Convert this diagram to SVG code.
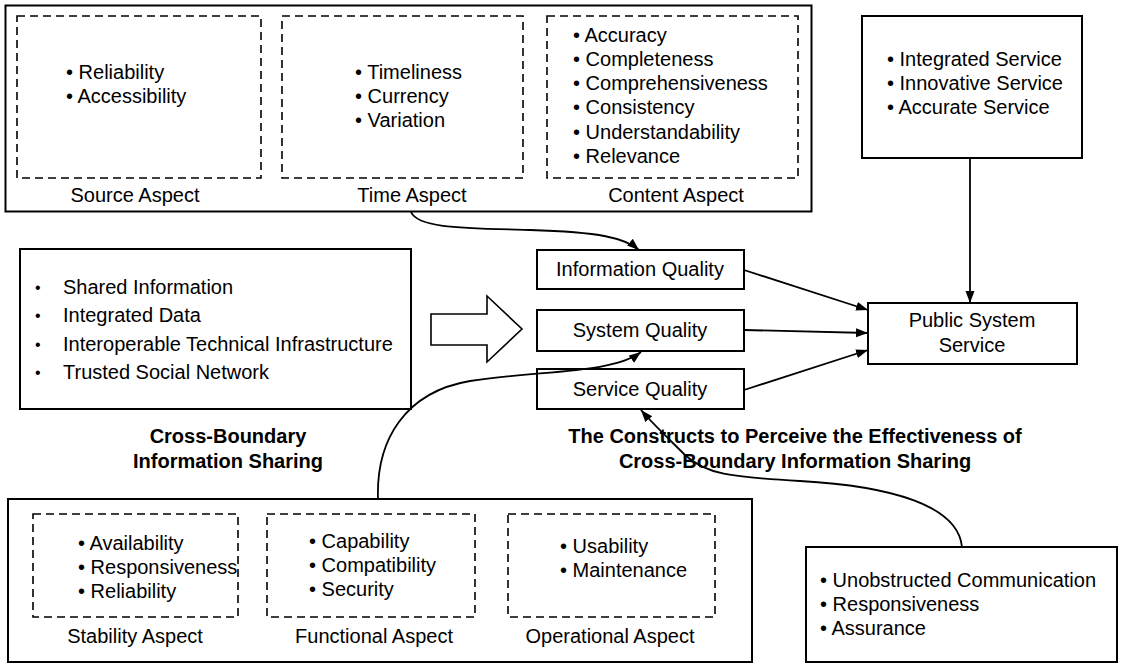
<svg xmlns="http://www.w3.org/2000/svg" width="1123" height="669" viewBox="0 0 1123 669">
<style>
text{font-family:"Liberation Sans",Arial,sans-serif;font-size:20px;fill:#000}
.b{font-weight:bold}
.m{text-anchor:middle}
.sb{font-size:16px}
.box{fill:#fff;stroke:#000;stroke-width:2}
.dash{fill:none;stroke:#000;stroke-width:1.6;stroke-dasharray:8 5}
.con{fill:none;stroke:#000;stroke-width:1.8}
</style>
<defs>
<marker id="ah" markerUnits="userSpaceOnUse" markerWidth="14" markerHeight="10" refX="12" refY="4.5" orient="auto">
<path d="M0,0 L12,4.5 L0,9 z" fill="#000"/>
</marker>
</defs>
<rect width="1123" height="669" fill="#fff"/>

<g id="information-aspects">
<rect class="box" x="5.5" y="5.5" width="806" height="206"/>
<rect class="dash" x="17" y="16" width="244" height="162"/>
<rect class="dash" x="282" y="16" width="241" height="162"/>
<rect class="dash" x="547" y="16" width="251" height="162"/>
<text x="66" y="79">• Reliability</text>
<text x="66" y="103">• Accessibility</text>
<text x="355" y="79">• Timeliness</text>
<text x="355" y="103">• Currency</text>
<text x="355" y="127">• Variation</text>
<text x="573" y="42">• Accuracy</text>
<text x="573" y="66">• Completeness</text>
<text x="573" y="90">• Comprehensiveness</text>
<text x="573" y="114">• Consistency</text>
<text x="573" y="139">• Understandability</text>
<text x="573" y="163">• Relevance</text>
<text class="m" x="135" y="202">Source Aspect</text>
<text class="m" x="412" y="202">Time Aspect</text>
<text class="m" x="676" y="202">Content Aspect</text>
</g>

<g id="service-outputs">
<rect class="box" x="862" y="16" width="220" height="142"/>
<text x="887" y="66">• Integrated Service</text>
<text x="887" y="90">• Innovative Service</text>
<text x="887" y="114">• Accurate Service</text>
</g>

<g id="public-system-service">
<rect class="box" x="868" y="303" width="209" height="61"/>
<text class="m" x="972" y="327">Public System</text>
<text class="m" x="972" y="352">Service</text>
</g>

<g id="information-quality">
<rect class="box" x="537" y="250" width="207" height="39"/>
<text class="m" x="640" y="276">Information Quality</text>
</g>
<g id="system-quality">
<rect class="box" x="537" y="310" width="207" height="41"/>
<text class="m" x="640" y="337">System Quality</text>
</g>
<g id="service-quality">
<rect class="box" x="537" y="369" width="207" height="40"/>
<text class="m" x="640" y="396">Service Quality</text>
</g>

<g id="cross-boundary">
<rect class="box" x="20" y="249" width="391" height="160"/>
<text class="sb" x="35" y="293">•</text>
<text x="63" y="294">Shared Information</text>
<text class="sb" x="35" y="321">•</text>
<text x="63" y="322">Integrated Data</text>
<text class="sb" x="35" y="350">•</text>
<text x="63" y="351">Interoperable Technical Infrastructure</text>
<text class="sb" x="35" y="378">•</text>
<text x="63" y="379">Trusted Social Network</text>
<text class="b m" x="228" y="443">Cross-Boundary</text>
<text class="b m" x="228" y="468">Information Sharing</text>
</g>

<g id="block-arrow">
<polygon points="431,314 487,314 487,296 522,329 487,362 487,345 431,345" fill="#fff" stroke="#000" stroke-width="1.6"/>
</g>

<g id="constructs-title">
<text class="b m" x="795" y="443">The Constructs to Perceive the Effectiveness of</text>
<text class="b m" x="795" y="468">Cross-Boundary Information Sharing</text>
</g>

<g id="system-aspects">
<rect class="box" x="8" y="499" width="744" height="163"/>
<rect class="dash" x="33" y="514" width="205" height="103"/>
<rect class="dash" x="267" y="514" width="208" height="103"/>
<rect class="dash" x="508" y="514" width="207" height="103"/>
<text x="78" y="550">• Availability</text>
<text x="78" y="574">• Responsiveness</text>
<text x="78" y="598">• Reliability</text>
<text x="309" y="548">• Capability</text>
<text x="309" y="572">• Compatibility</text>
<text x="309" y="596">• Security</text>
<text x="560" y="553">• Usability</text>
<text x="560" y="577">• Maintenance</text>
<text class="m" x="135" y="643">Stability Aspect</text>
<text class="m" x="374" y="643">Functional Aspect</text>
<text class="m" x="610" y="643">Operational Aspect</text>
</g>

<g id="service-aspects">
<rect class="box" x="806" y="547" width="311" height="115"/>
<text x="820" y="587">• Unobstructed Communication</text>
<text x="820" y="611">• Responsiveness</text>
<text x="820" y="635">• Assurance</text>
</g>

<g id="connectors">
<path class="con" marker-end="url(#ah)" d="M411,212 C418,228 460,228 530,230 C600,232 625,238 639,250"/>
<path class="con" marker-end="url(#ah)" d="M378,499 C376,440 405,392 470,381 C540,370 612,374 641,352"/>
<path class="con" marker-end="url(#ah)" d="M962,547 C958,505 890,486 800,481 C730,477 705,474 685,455 C668,438 652,423 641,410"/>
<path class="con" marker-end="url(#ah)" d="M744,270 L868,310"/>
<path class="con" marker-end="url(#ah)" d="M744,330 L868,333"/>
<path class="con" marker-end="url(#ah)" d="M744,390 L868,350"/>
<path class="con" marker-end="url(#ah)" d="M970,158 L970,303"/>
</g>
</svg>
